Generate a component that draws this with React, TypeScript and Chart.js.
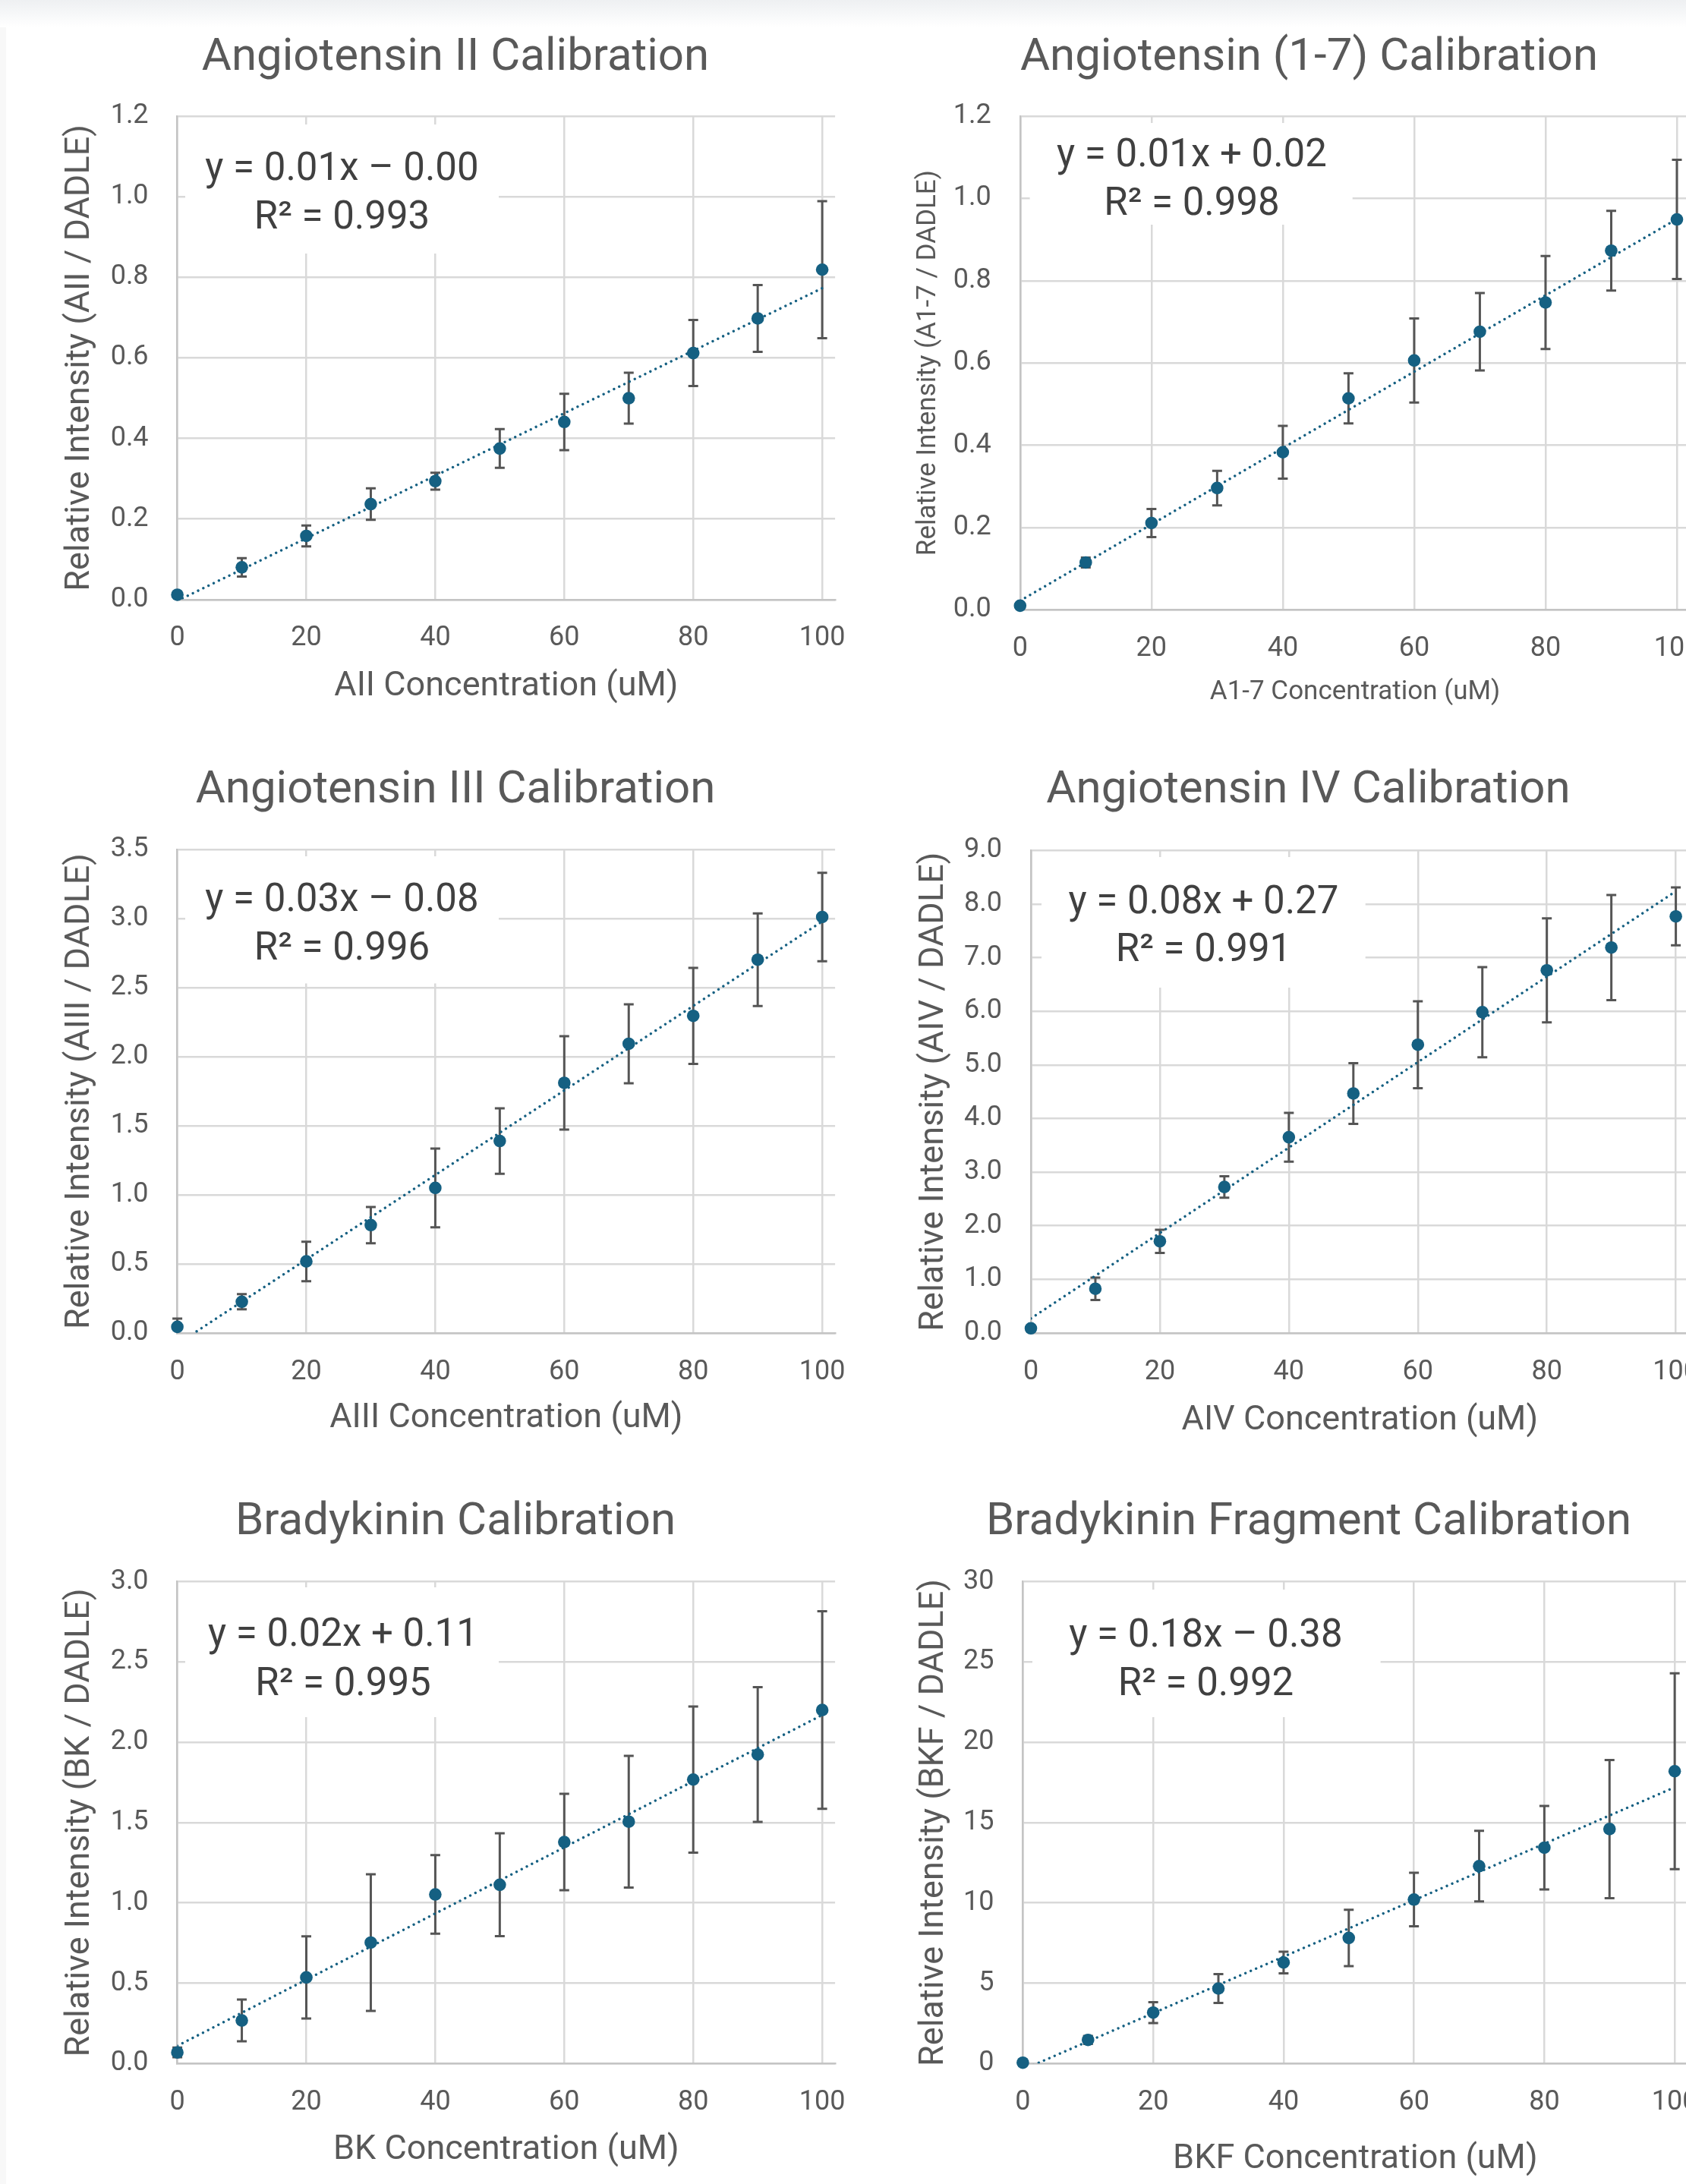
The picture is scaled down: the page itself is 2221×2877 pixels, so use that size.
import React, { useEffect, useRef } from "react";
import { Chart, registerables } from "chart.js";

Chart.register(...registerables);

const FONT = "Roboto, 'Liberation Sans', sans-serif";
Chart.defaults.font.family = FONT;

const BLUE = "#156082";
const GREY_TEXT = "#595959";
const EQ_TEXT = "#404040";
const GRID = "#d9d9d9";
const AXIS_LINE = "#c4c4c4";
const ERR_COLOR = "#555555";

// ---------- shared data ----------
const concentrationUM = [0, 10, 20, 30, 40, 50, 60, 70, 80, 90, 100];
const xTickLabels = ["0", "20", "40", "60", "80", "100"];
const trendX = [0, 100];

// ---------- Angiotensin II ----------
const aiiMean = [0.012, 0.080, 0.158, 0.237, 0.294, 0.375, 0.441, 0.500, 0.612, 0.698, 0.819];
const aiiSD = [0.005, 0.023, 0.026, 0.039, 0.021, 0.048, 0.070, 0.063, 0.082, 0.083, 0.170];
const aiiTrend = [-0.003, 0.773];
const aiiYTicks = ["0.0", "0.2", "0.4", "0.6", "0.8", "1.0", "1.2"];
const aiiEquation = ["y = 0.01x – 0.00", "R² = 0.993"];

// ---------- Angiotensin (1-7) ----------
const a17Mean = [0.010, 0.115, 0.211, 0.296, 0.383, 0.514, 0.606, 0.676, 0.747, 0.873, 0.949];
const a17SD = [0.005, 0.012, 0.034, 0.042, 0.064, 0.061, 0.102, 0.094, 0.113, 0.097, 0.145];
const a17Trend = [0.022, 0.950];
const a17YTicks = ["0.0", "0.2", "0.4", "0.6", "0.8", "1.0", "1.2"];
const a17Equation = ["y = 0.01x + 0.02", "R² = 0.998"];

// ---------- Angiotensin III ----------
const aiiiMean = [0.044, 0.226, 0.518, 0.781, 1.050, 1.390, 1.811, 2.094, 2.296, 2.703, 3.012];
const aiiiSD = [0.060, 0.055, 0.143, 0.131, 0.285, 0.237, 0.338, 0.286, 0.348, 0.335, 0.320];
const aiiiTrend = [-0.08, 2.98];
const aiiiYTicks = ["0.0", "0.5", "1.0", "1.5", "2.0", "2.5", "3.0", "3.5"];
const aiiiEquation = ["y = 0.03x – 0.08", "R² = 0.996"];

// ---------- Angiotensin IV ----------
const aivMean = [0.087, 0.824, 1.709, 2.723, 3.651, 4.467, 5.377, 5.984, 6.765, 7.190, 7.771];
const aivSD = [0.05, 0.21, 0.217, 0.20, 0.455, 0.565, 0.81, 0.84, 0.97, 0.98, 0.54];
const aivTrend = [0.27, 8.24];
const aivYTicks = ["0.0", "1.0", "2.0", "3.0", "4.0", "5.0", "6.0", "7.0", "8.0", "9.0"];
const aivEquation = ["y = 0.08x + 0.27", "R² = 0.991"];

// ---------- Bradykinin ----------
const bkMean = [0.069, 0.268, 0.536, 0.753, 1.053, 1.113, 1.379, 1.506, 1.768, 1.924, 2.201];
const bkSD = [0.03, 0.13, 0.256, 0.425, 0.245, 0.32, 0.30, 0.41, 0.455, 0.42, 0.615];
const bkTrend = [0.11, 2.17];
const bkYTicks = ["0.0", "0.5", "1.0", "1.5", "2.0", "2.5", "3.0"];
const bkEquation = ["y = 0.02x + 0.11", "R² = 0.995"];

// ---------- Bradykinin Fragment ----------
const bkfMean = [0.05, 1.47, 3.17, 4.67, 6.29, 7.82, 10.21, 12.29, 13.44, 14.6, 18.2];
const bkfSD = [0.05, 0.25, 0.65, 0.9, 0.67, 1.75, 1.67, 2.2, 2.6, 4.3, 6.1];
const bkfTrend = [-0.38, 17.2];
const bkfYTicks = ["0", "5", "10", "15", "20", "25", "30"];
const bkfEquation = ["y = 0.18x – 0.38", "R² = 0.992"];

// ---------- layout (page coordinates) ----------
type Layout = {
  canvas: number[]; // left, top, width, height
  plot: number[]; // L, T, R, B
  titleX: number;
  titleBase: number;
  axisFont: number;
  yTitlePad: number;
  xTitlePad: number;
  eqX: number;
  eqBase: number[];
  box: number[]; // x1, y1, x2, y2
};

type Spec = {
  title: string;
  xTitle: string;
  yTitle: string;
  mean: number[];
  sd: number[];
  trend: number[];
  yTicks: string[];
  equation: string[];
  layout: Layout;
};

const panels: Spec[] = [
  {
    title: "Angiotensin II Calibration",
    xTitle: "AII Concentration (uM)",
    yTitle: "Relative Intensity (AII / DADLE)",
    mean: aiiMean, sd: aiiSD, trend: aiiTrend, yTicks: aiiYTicks, equation: aiiEquation,
    layout: {
      canvas: [0, 0, 1160, 960], plot: [233.6, 153.1, 1100.1, 789.8],
      titleX: 600, titleBase: 91.8, axisFont: 45, yTitlePad: 79, xTitlePad: 28,
      eqX: 450.5, eqBase: [237.4, 300.7], box: [244, 164, 657, 334],
    },
  },
  {
    title: "Angiotensin (1-7) Calibration",
    xTitle: "A1-7 Concentration (uM)",
    yTitle: "Relative Intensity (A1-7 / DADLE)",
    mean: a17Mean, sd: a17SD, trend: a17Trend, yTicks: a17YTicks, equation: a17Equation,
    layout: {
      canvas: [1110, 0, 1176, 960], plot: [1343.8, 153, 2226.3, 803.3],
      titleX: 1724.5, titleBase: 91.8, axisFont: 35, yTitlePad: 92, xTitlePad: 27,
      eqX: 1570, eqBase: [219.2, 283], box: [1356.6, 162, 1781.7, 296],
    },
  },
  {
    title: "Angiotensin III Calibration",
    xTitle: "AIII Concentration (uM)",
    yTitle: "Relative Intensity (AIII / DADLE)",
    mean: aiiiMean, sd: aiiiSD, trend: aiiiTrend, yTicks: aiiiYTicks, equation: aiiiEquation,
    layout: {
      canvas: [0, 960, 1160, 960], plot: [233.6, 1119.2, 1100.1, 1755.9],
      titleX: 600, titleBase: 1056.7, axisFont: 45, yTitlePad: 79, xTitlePad: 24,
      eqX: 450.5, eqBase: [1200, 1264], box: [244, 1128, 657, 1295.5],
    },
  },
  {
    title: "Angiotensin IV Calibration",
    xTitle: "AIV Concentration (uM)",
    yTitle: "Relative Intensity (AIV / DADLE)",
    mean: aivMean, sd: aivSD, trend: aivTrend, yTicks: aivYTicks, equation: aivEquation,
    layout: {
      canvas: [1110, 960, 1175, 960], plot: [1358, 1120.4, 2224.6, 1755.9],
      titleX: 1723.5, titleBase: 1056.7, axisFont: 45, yTitlePad: 93.5, xTitlePad: 21,
      eqX: 1585.5, eqBase: [1203, 1266], box: [1372, 1129, 1798.7, 1301],
    },
  },
  {
    title: "Bradykinin Calibration",
    xTitle: "BK Concentration (uM)",
    yTitle: "Relative Intensity (BK / DADLE)",
    mean: bkMean, sd: bkSD, trend: bkTrend, yTicks: bkYTicks, equation: bkEquation,
    layout: {
      canvas: [0, 1920, 1160, 957], plot: [233.6, 2083.6, 1100.1, 2718.3],
      titleX: 600, titleBase: 2020.7, axisFont: 45, yTitlePad: 79, xTitlePad: 17.6,
      eqX: 452, eqBase: [2168.4, 2232.5], box: [244, 2091, 657, 2262],
    },
  },
  {
    title: "Bradykinin Fragment Calibration",
    xTitle: "BKF Concentration (uM)",
    yTitle: "Relative Intensity (BKF / DADLE)",
    mean: bkfMean, sd: bkfSD, trend: bkfTrend, yTicks: bkfYTicks, equation: bkfEquation,
    layout: {
      canvas: [1110, 1920, 1174, 957], plot: [1347.4, 2083.6, 2223.3, 2718.3],
      titleX: 1724, titleBase: 2020.7, axisFont: 45, yTitlePad: 93.5, xTitlePad: 5.4,
      eqX: 1588.5, eqBase: [2169, 2232.5], box: [1360, 2094, 1818.6, 2262],
    },
  },
];

const X_MAX = 102;
const TICK_FONT = 36;

// ---------- plugins ----------
const decorPlugin = {
  id: "decor",
  beforeDatasetsDraw(chart: any, _args: any, opts: any) {
    const { ctx } = chart;
    const spec: Spec = opts.spec;
    const lay = spec.layout;
    const cl = lay.canvas[0];
    const ct = lay.canvas[1];
    ctx.save();
    // equation label box (white background, over gridlines)
    ctx.fillStyle = "#ffffff";
    ctx.fillRect(lay.box[0] - cl, lay.box[1] - ct, lay.box[2] - lay.box[0], lay.box[3] - lay.box[1]);
    ctx.fillStyle = EQ_TEXT;
    ctx.font = `51px ${FONT}`;
    ctx.textAlign = "center";
    ctx.textBaseline = "alphabetic";
    spec.equation.forEach((line, i) => {
      ctx.fillText(line, lay.eqX - cl, lay.eqBase[i] - ct);
    });
    // error bars
    const xs = chart.scales.x;
    const ys = chart.scales.y;
    const area = chart.chartArea;
    ctx.beginPath();
    ctx.rect(area.left - 20, area.top, area.right - area.left + 40, area.bottom - area.top);
    ctx.clip();
    ctx.strokeStyle = ERR_COLOR;
    ctx.lineWidth = 3;
    ctx.lineCap = "butt";
    concentrationUM.forEach((c, i) => {
      const px = xs.getPixelForValue(c);
      const top = ys.getPixelForValue(spec.mean[i] + spec.sd[i]);
      const bot = ys.getPixelForValue(spec.mean[i] - spec.sd[i]);
      ctx.beginPath();
      ctx.moveTo(px, top);
      ctx.lineTo(px, bot);
      ctx.moveTo(px - 6.5, top);
      ctx.lineTo(px + 6.5, top);
      ctx.moveTo(px - 6.5, bot);
      ctx.lineTo(px + 6.5, bot);
      ctx.stroke();
    });
    ctx.restore();
  },
  afterDraw(chart: any, _args: any, opts: any) {
    const { ctx } = chart;
    const spec: Spec = opts.spec;
    const lay = spec.layout;
    ctx.save();
    ctx.fillStyle = GREY_TEXT;
    ctx.font = `60px ${FONT}`;
    ctx.textAlign = "center";
    ctx.textBaseline = "alphabetic";
    ctx.fillText(spec.title, lay.titleX - lay.canvas[0], lay.titleBase - lay.canvas[1]);
    ctx.restore();
  },
};

function CalibrationChart({ spec }: { spec: Spec }) {
  const ref = useRef<HTMLCanvasElement | null>(null);
  const [cl, ct, cw, ch] = spec.layout.canvas;

  useEffect(() => {
    const canvas = ref.current;
    if (!canvas) return;
    const lay = spec.layout;
    const [L, T, R, B] = lay.plot;
    const yTickVals = spec.yTicks.map(Number);
    const xTickVals = xTickLabels.map(Number);
    const yMin = yTickVals[0];
    const yMax = yTickVals[yTickVals.length - 1];

    const chart = new Chart(canvas, {
      type: "scatter",
      data: {
        datasets: [
          {
            label: "mean",
            data: concentrationUM.map((x, i) => ({ x, y: spec.mean[i] })),
            backgroundColor: BLUE,
            borderColor: BLUE,
            borderWidth: 0,
            pointRadius: 8.3,
            pointHoverRadius: 8.3,
            clip: false,
            order: 1,
          } as any,
          {
            label: "trend",
            data: trendX.map((x, i) => ({ x, y: spec.trend[i] })),
            showLine: true,
            borderColor: BLUE,
            backgroundColor: BLUE,
            borderWidth: 3.4,
            borderDash: [0.01, 7.6],
            borderCapStyle: "round",
            pointRadius: 0,
            pointHoverRadius: 0,
            order: 2,
          } as any,
        ],
      },
      options: {
        animation: false,
        responsive: false,
        maintainAspectRatio: false,
        events: [],
        layout: {
          padding: { left: 0, top: T - ct, right: cl + cw - R, bottom: 0 },
        },
        plugins: {
          legend: { display: false },
          tooltip: { enabled: false },
          title: { display: false },
          decor: { spec },
        } as any,
        scales: {
          x: {
            type: "linear",
            min: 0,
            max: X_MAX,
            afterBuildTicks: (s: any) => {
              s.ticks = xTickVals.map((v) => ({ value: v }));
            },
            afterFit: (s: any) => {
              s.height = ct + ch - B;
            },
            ticks: {
              callback: (_v: any, i: number) => xTickLabels[i],
              font: { size: TICK_FONT },
              color: GREY_TEXT,
              padding: 30,
              maxRotation: 0,
              minRotation: 0,
              autoSkip: false,
            },
            grid: { color: GRID, lineWidth: 2.5, drawTicks: false },
            border: { display: true, color: AXIS_LINE, width: 2.5 },
            title: {
              display: true,
              text: spec.xTitle,
              font: { size: lay.axisFont },
              color: GREY_TEXT,
              padding: { top: 0, bottom: lay.xTitlePad },
            },
          } as any,
          y: {
            type: "linear",
            min: yMin,
            max: yMax,
            afterBuildTicks: (s: any) => {
              s.ticks = yTickVals.map((v) => ({ value: v }));
            },
            afterFit: (s: any) => {
              s.width = L - cl;
            },
            ticks: {
              callback: (_v: any, i: number) => spec.yTicks[i],
              font: { size: TICK_FONT },
              color: GREY_TEXT,
              padding: 38,
              autoSkip: false,
            },
            grid: { color: GRID, lineWidth: 2.5, drawTicks: false },
            border: { display: true, color: AXIS_LINE, width: 2.5 },
            title: {
              display: true,
              text: spec.yTitle,
              font: { size: lay.axisFont },
              color: GREY_TEXT,
              padding: { top: lay.yTitlePad, bottom: 0 },
            },
          } as any,
        },
      },
      plugins: [decorPlugin as any],
    });
    return () => chart.destroy();
  }, [spec]);

  return (
    <canvas
      ref={ref}
      width={cw}
      height={ch}
      style={{ position: "absolute", left: cl, top: ct, width: cw, height: ch }}
    />
  );
}

export default function App() {
  return (
    <div
      style={{
        position: "absolute",
        left: 0,
        top: 0,
        width: 2221,
        height: 2877,
        overflow: "hidden",
        background: "#ffffff",
      }}
    >
      <div
        style={{
          position: "absolute",
          left: 0,
          top: 0,
          width: 2221,
          height: 36,
          background: "linear-gradient(#eef0f2, #ffffff)",
        }}
      />
      <div
        style={{
          position: "absolute",
          left: 0,
          top: 36,
          width: 8,
          height: 2841,
          background: "#f8f8f8",
        }}
      />
      {panels.map((p, i) => (
        <CalibrationChart key={i} spec={p} />
      ))}
    </div>
  );
}
